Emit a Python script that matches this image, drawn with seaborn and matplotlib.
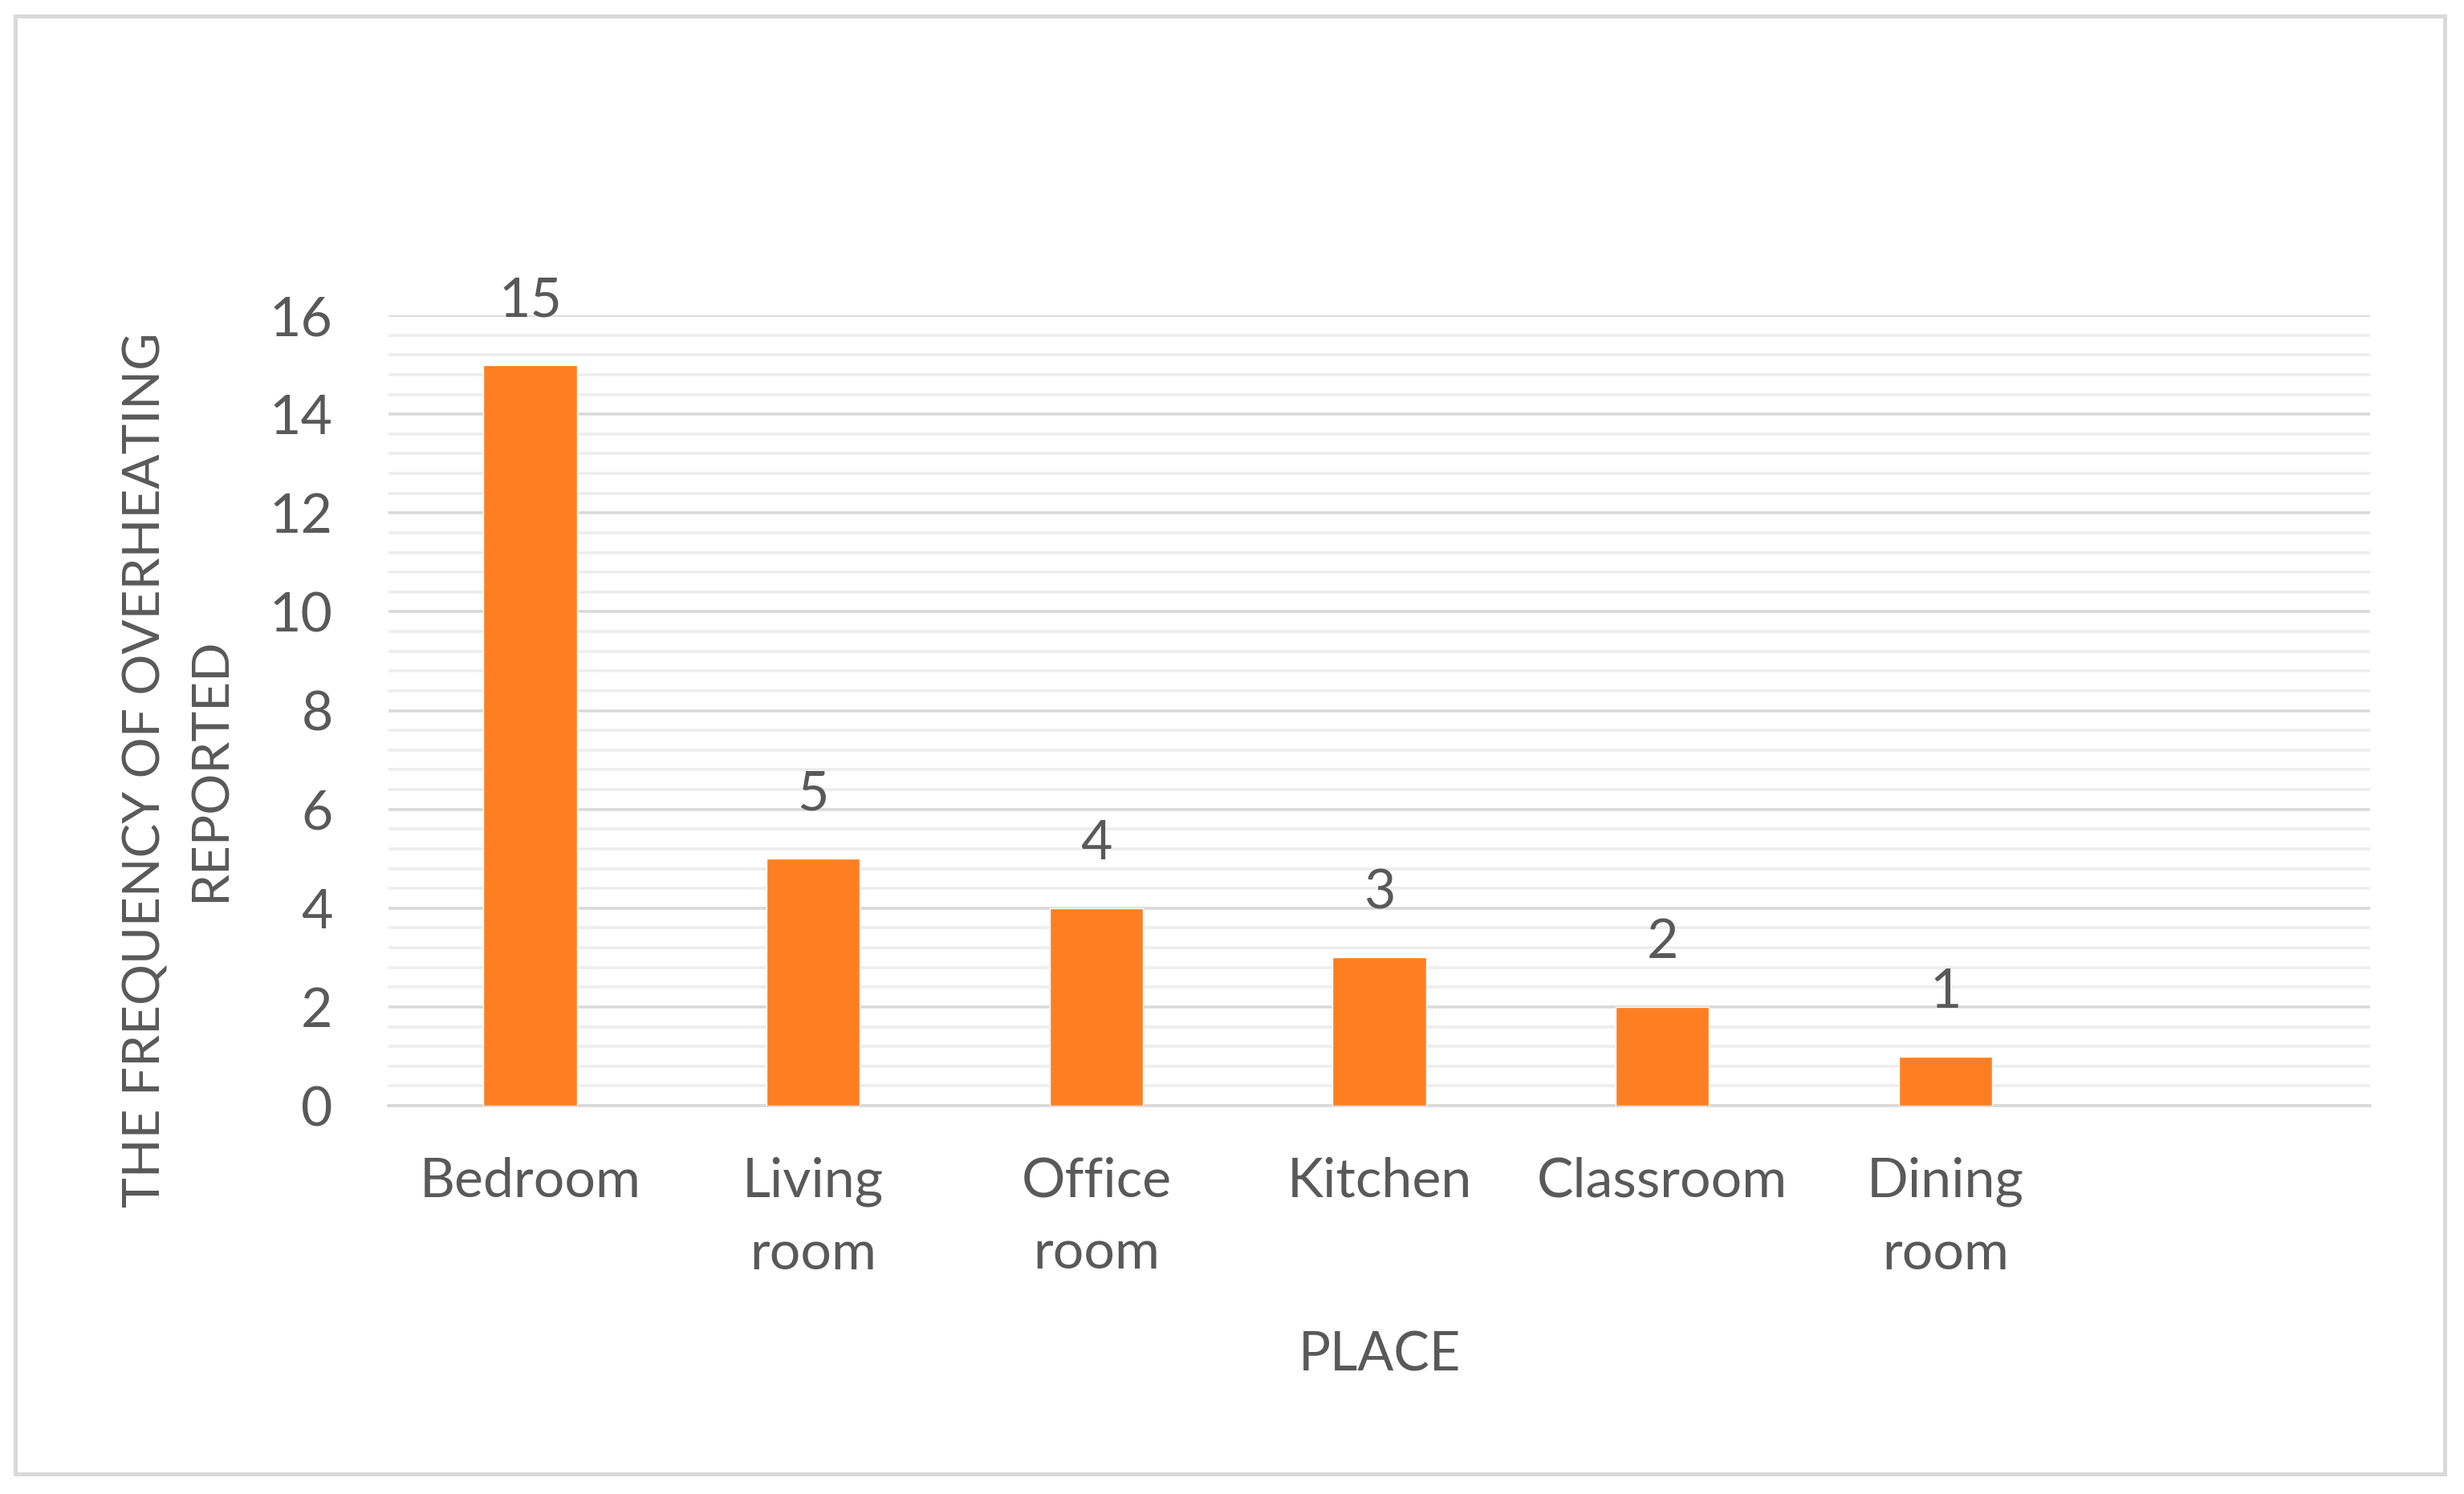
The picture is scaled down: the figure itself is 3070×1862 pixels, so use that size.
import numpy as np
import pandas as pd
import seaborn as sns
import matplotlib.pyplot as plt
from matplotlib.patches import Rectangle
from matplotlib.ticker import MultipleLocator

places = ["Bedroom", "Living\nroom", "Office\nroom", "Kitchen", "Classroom", "Dining\nroom"]
counts = [15, 5, 4, 3, 2, 1]

df = pd.DataFrame({"place": places, "count": counts})

sns.set_theme(style="white")
plt.rcParams["font.family"] = ["Lato", "DejaVu Sans"]
txt = "#595959"

fig = plt.figure(figsize=(30.7, 18.62), dpi=100)
ax = fig.add_axes([0.1577, 0.2599, 0.8042, 0.529])

sns.barplot(data=df, x="place", y="count", color="#FE7F22", saturation=1,
            width=0.33, ax=ax, zorder=3)

ax.set_xlim(-0.5, 6.5)
ax.set_ylim(0, 16)
ax.yaxis.set_major_locator(MultipleLocator(2))
ax.yaxis.set_minor_locator(MultipleLocator(0.4))
ax.grid(axis="y", which="major", color="#D9D9D9", linewidth=2.6, zorder=0)
ax.grid(axis="y", which="minor", color="#EDEDED", linewidth=2.6, zorder=0)
ax.set_axisbelow(True)

for s in ["top", "right", "left"]:
    ax.spines[s].set_visible(False)
ax.spines["bottom"].set_color("#D9D9D9")
ax.spines["bottom"].set_linewidth(2.6)

ax.tick_params(axis="both", which="both", length=0, labelsize=49, colors=txt)
ax.tick_params(axis="y", pad=50)
ax.tick_params(axis="x", pad=46)
for lbl in ax.get_xticklabels():
    lbl.set_linespacing(1.55)

ax.bar_label(ax.containers[0], padding=35, fontsize=49, color=txt)

ax.set_xlabel("PLACE", fontsize=48, color=txt)
ax.xaxis.set_label_coords(0.5, -0.285)
ax.set_ylabel("THE FREQUENCY OF OVERHEATING\nREPORTED", fontsize=46, color=txt,
              linespacing=1.5)
ax.yaxis.set_label_coords(-0.078, 0.425)

fig.patches.append(Rectangle((0.0062, 0.0134), 0.9860, 0.9756, transform=fig.transFigure,
                             fill=False, edgecolor="#D9D9D9", linewidth=3.6))

fig.savefig("out.png", dpi=100)
